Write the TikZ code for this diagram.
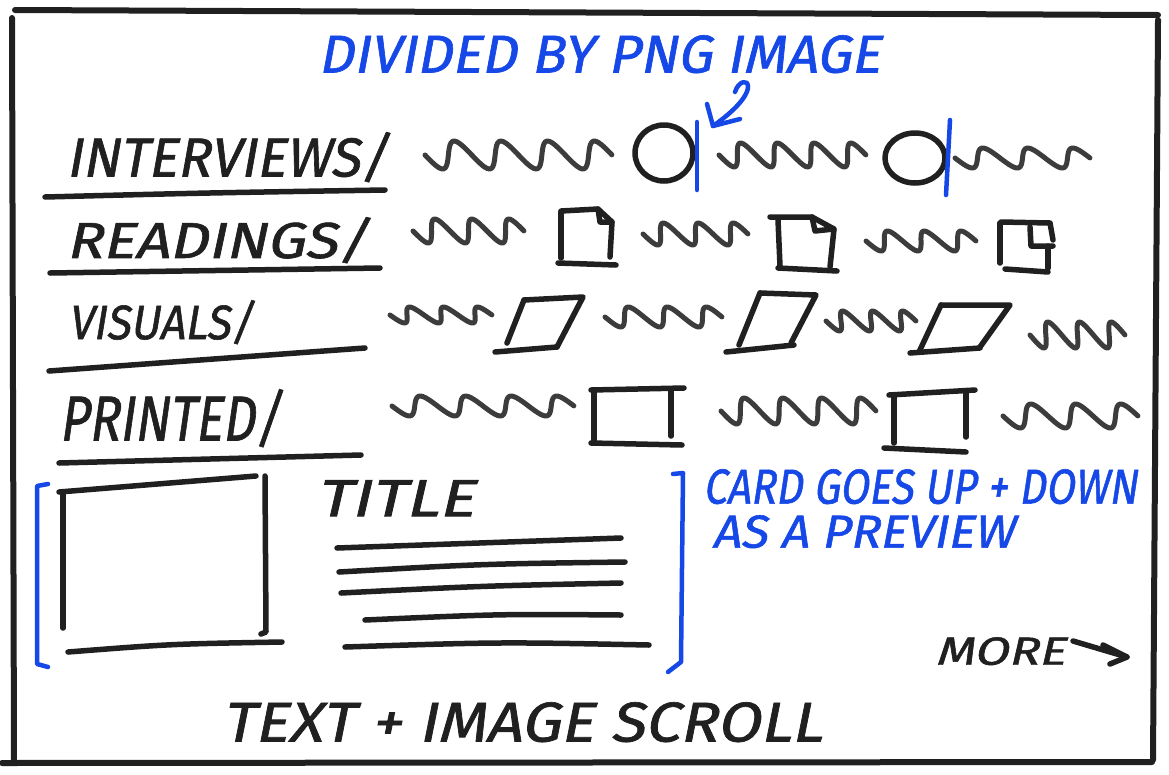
\documentclass[tikz,border=0pt]{standalone}
\usepackage{graphicx}
\usepackage{fontspec}
\newfontfamily\handfont{Fira Sans}[FakeSlant=0.18,FakeBold=1.2]
\definecolor{inkc}{RGB}{32,32,32}
\definecolor{sqc}{RGB}{60,60,60}
\definecolor{bluec}{RGB}{22,72,232}
% fit a text into a given width and total height
\newcommand\fitbox[3]{\resizebox*{#1}{#2}{\handfont #3}}
\begin{document}
\begin{tikzpicture}[x=1pt,y=-1pt,
  ink/.style={draw=inkc,line width=5.5pt,line cap=round,line join=round},
  sq/.style={draw=sqc,line width=5pt,line cap=round,line join=round},
  blueink/.style={draw=bluec,line width=4.5pt,line cap=round,line join=round},
  frame/.style={draw=inkc,line width=6pt,line cap=round},
  txt/.style={inner sep=0pt,anchor=north west,text=inkc},
  bluetxt/.style={inner sep=0pt,anchor=north west,text=bluec}]
\useasboundingbox[fill=white] (0,0) rectangle (1169,774);

% outer frame
\draw[frame] (15,10) -- (1158,15);
\draw[frame] (12,18) -- (14,760);
\draw[frame] (2,763) -- (1152,762);
\draw[frame] (1158,20) -- (1153,760);

% header note
\node[bluetxt] (hdr) at (318,35) {\fitbox{562pt}{38pt}{DIVIDED BY PNG IMAGE}};
\coordinate (arrS) at (735,92);
\coordinate (arrT) at (713,126);
\draw[blueink] (arrS) .. controls (742,70) and (770,86) .. (arrT);
\draw[blueink] (707,104) -- (arrT) -- (740,119);

% category labels
\node[txt] (lint) at (66,132) {\fitbox{322pt}{50pt}{INTERVIEWS/}};
\node[txt] (lread) at (66,217) {\fitbox{302pt}{46pt}{READINGS/}};
\node[txt] (lvis) at (68,300) {\fitbox{185pt}{44pt}{VISUALS/}};
\node[txt] (lprint) at (59,389) {\fitbox{222pt}{58pt}{PRINTED/}};

% underlines
\draw[ink] (45,197) .. controls (200,193) .. (385,190);
\draw[ink] (50,273) -- (380,268);
\draw[ink] (49,371) -- (365,348);
\draw[ink] (59,463) -- (361,455);

% squiggles: x1/x2/y/humps/amplitude
\foreach \xa/\xb/\yy/\nn/\am in {
  425/612/155/4/14, 719/866/155/4/12, 955/1090/158/3/10,
  413/524/231/3/12, 643/748/234/3/11, 866/976/241/3/10,
  390/492/315/3/8, 605/722/317/3/10, 826/916/321/3/10, 1030/1125/335/3/13,
  392/574/406/4/10, 721/876/411/4/13, 1003/1138/416/3/12}
  \draw[sq] plot[domain=0:1,samples=90,smooth]
    ({\xa+\x*(\xb-\xa)+6*sin(\x*\nn*360)},{\yy-\am*cos(\x*\nn*360+90)});

% interview circles and dividers
\draw[ink] (664,153) ellipse [x radius=29,y radius=28];
\draw[ink] (915,158) ellipse [x radius=30,y radius=25];
\draw[blueink] (697,122) -- (697,190);
\draw[blueink] (950,120) -- (946,195);

% reading documents
\draw[ink] (561,212) -- (561,258);
\draw[ink] (561,211) -- (598,209) -- (612,222) -- (610,257);
\draw[ink] (598,209) -- (600,222) -- (612,222);
\draw[ink] (558,263) -- (616,265);
\draw[ink] (778,220) -- (780,266);
\draw[ink] (770,217) -- (812,217) -- (834,229) -- (830,267);
\draw[ink] (812,217) -- (815,231) -- (834,229);
\draw[ink] (778,268) -- (837,271);
\draw[ink] (1000,223) -- (1000,263);
\draw[ink] (1001,222) -- (1050,223) -- (1053,240);
\draw[ink] (1030,227) -- (1031,246) -- (1053,246);
\draw[ink] (1048,246) -- (1048,268);
\draw[ink] (1005,269) -- (1048,272);

% visual frames
\draw[ink] (524,300) -- (583,297) -- (557,347);
\draw[ink] (524,300) -- (507,343);
\draw[ink] (495,352) -- (557,347);
\draw[ink] (760,293) -- (816,295) -- (791,343);
\draw[ink] (760,293) -- (739,345);
\draw[ink] (726,352) -- (794,345);
\draw[ink] (941,305) -- (1010,305) -- (980,347);
\draw[ink] (941,305) -- (919,352);
\draw[ink] (910,353) -- (980,348);

% printed frames
\draw[ink] (591,390) -- (684,388);
\draw[ink] (594,391) -- (594,442);
\draw[ink] (671,390) -- (671,436);
\draw[ink] (591,443) -- (682,445);
\draw[ink] (889,395) -- (975,390);
\draw[ink] (894,395) -- (894,443);
\draw[ink] (966,392) -- (966,437);
\draw[ink] (884,448) -- (966,452);

% preview card
\draw[blueink] (48,484) -- (37,486) -- (37,664) -- (48,667);
\draw[blueink] (673,474) -- (683,473) -- (681,662) -- (668,672);
\draw[ink] (59,492) -- (256,476);
\draw[ink] (63,493) -- (63,628);
\draw[ink] (265,476) -- (266,632) -- (261,634);
\draw[ink] (68,652) .. controls (170,644) .. (282,642);
\node[txt] (ttl) at (316,480) {\fitbox{158pt}{36pt}{TITLE}};
\draw[ink] (337,548) -- (621,538);
\draw[ink] (339,572) .. controls (480,564) .. (625,562);
\draw[ink] (341,593) .. controls (480,586) .. (621,583);
\draw[ink] (365,620) .. controls (500,614) .. (621,615);
\draw[ink] (345,647) .. controls (500,642) .. (649,645);

% card note
\node[bluetxt] (note1) at (703,469) {\fitbox{434pt}{35pt}{CARD GOES UP + DOWN}};
\node[bluetxt] (note2) at (712,515) {\fitbox{302pt}{33pt}{AS A PREVIEW}};

% more link
\node[txt] (more) at (935,637) {\fitbox{130pt}{28pt}{MORE}};
\coordinate (moreS) at (1073,641);
\coordinate (moreT) at (1127,657);
\draw[ink] (moreS) -- (moreT);
\draw[ink] (1103,645) -- (moreT) -- (1110,664);

% caption
\node[txt] (cap) at (222,702) {\fitbox{600pt}{40pt}{TEXT + IMAGE SCROLL}};
\end{tikzpicture}
\end{document}
